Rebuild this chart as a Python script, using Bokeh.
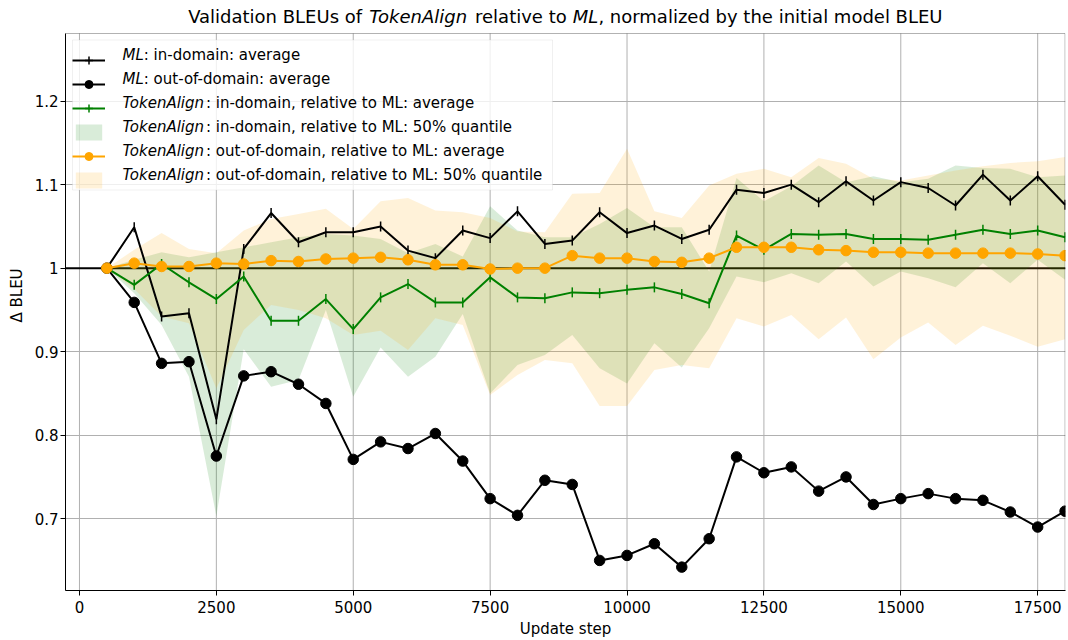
import math
from bokeh.plotting import figure
from bokeh.models import (Range1d, FixedTicker, Span, Legend, LegendItem, Label,
                          BoxAnnotation)
from bokeh.embed import file_html
from bokeh.resources import INLINE

# ---------------- data ----------------
steps = [500, 1000, 1500, 2000, 2500, 3000, 3500, 4000, 4500, 5000, 5500, 6000,
         6500, 7000, 7500, 8000, 8500, 9000, 9500, 10000, 10500, 11000, 11500, 12000,
         12500, 13000, 13500, 14000, 14500, 15000, 15500, 16000, 16500, 17000, 17500, 18000]

ml_in_avg = [1.000, 1.049, 0.942, 0.946, 0.819, 1.023, 1.066, 1.031, 1.043, 1.043, 1.050, 1.021,
             1.012, 1.045, 1.036, 1.068, 1.029, 1.033, 1.067, 1.042, 1.051, 1.035, 1.046, 1.094,
             1.090, 1.100, 1.079, 1.104, 1.081, 1.103, 1.096, 1.075, 1.112, 1.081, 1.110, 1.076]

ml_out_avg = [1.000, 0.959, 0.886, 0.888, 0.775, 0.871, 0.876, 0.861, 0.838, 0.771, 0.792, 0.784,
              0.802, 0.769, 0.724, 0.704, 0.746, 0.741, 0.650, 0.656, 0.670, 0.642, 0.676, 0.774,
              0.755, 0.762, 0.733, 0.750, 0.717, 0.724, 0.730, 0.724, 0.722, 0.708, 0.690, 0.709]

ta_in_avg = [1.000, 0.980, 1.005, 0.983, 0.963, 0.990, 0.937, 0.937, 0.963, 0.927, 0.965, 0.981,
             0.959, 0.959, 0.989, 0.965, 0.964, 0.971, 0.970, 0.974, 0.977, 0.969, 0.958, 1.039,
             1.022, 1.041, 1.040, 1.041, 1.035, 1.035, 1.034, 1.040, 1.046, 1.041, 1.045, 1.037]

ta_in_q_lo = [1.000, 0.970, 0.932, 0.870, 0.703, 0.903, 0.858, 0.866, 0.950, 0.846, 0.905, 0.870,
              0.894, 0.945, 0.850, 0.884, 0.896, 0.920, 0.880, 0.862, 0.910, 0.881, 0.928, 0.990,
              0.983, 0.994, 0.982, 1.008, 0.978, 0.996, 0.988, 0.977, 1.006, 0.982, 1.010, 0.986]

ta_in_q_hi = [1.000, 1.010, 1.019, 1.013, 1.019, 1.025, 1.031, 1.037, 1.041, 1.039, 1.035, 1.018,
              1.029, 1.014, 1.074, 1.045, 1.037, 1.037, 1.053, 1.072, 1.049, 1.049, 0.996, 1.108,
              1.080, 1.098, 1.123, 1.103, 1.110, 1.103, 1.107, 1.123, 1.120, 1.119, 1.109, 1.111]

ta_out_avg = [1.000, 1.006, 1.002, 1.002, 1.006, 1.005, 1.009, 1.008, 1.011, 1.012, 1.013, 1.010,
              1.004, 1.004, 0.999, 1.000, 1.000, 1.015, 1.012, 1.012, 1.008, 1.007, 1.012, 1.025,
              1.025, 1.025, 1.022, 1.021, 1.019, 1.019, 1.018, 1.018, 1.018, 1.018, 1.017, 1.015]

ta_out_q_lo = [1.000, 0.975, 0.942, 0.934, 0.856, 0.926, 0.956, 0.950, 0.940, 0.920, 0.925, 0.902,
               0.940, 0.932, 0.848, 0.872, 0.890, 0.886, 0.835, 0.835, 0.878, 0.884, 0.880, 0.940,
               0.930, 0.944, 0.915, 0.941, 0.891, 0.917, 0.935, 0.908, 0.931, 0.919, 0.906, 0.915]

ta_out_q_hi = [1.000, 1.022, 1.042, 1.023, 1.018, 1.045, 1.059, 1.065, 1.071, 1.047, 1.080, 1.084,
               1.069, 1.067, 1.060, 1.044, 1.043, 1.089, 1.090, 1.143, 1.068, 1.060, 1.099, 1.113,
               1.119, 1.109, 1.132, 1.125, 1.107, 1.105, 1.111, 1.117, 1.122, 1.126, 1.128, 1.133]

x_ticks = [0, 2500, 5000, 7500, 10000, 12500, 15000, 17500]
y_ticks = [0.7, 0.8, 0.9, 1.0, 1.1, 1.2]

# (italic name, rest of the label)
legend_labels = [
    ("ML", ": in-domain: average"),
    ("ML", ": out-of-domain: average"),
    ("TokenAlign", ": in-domain, relative to ML: average"),
    ("TokenAlign", ": in-domain, relative to ML: 50% quantile"),
    ("TokenAlign", ": out-of-domain, relative to ML: average"),
    ("TokenAlign", ": out-of-domain, relative to ML: 50% quantile"),
]

title_parts = [("Validation BLEUs of ", "normal"), ("TokenAlign", "italic"),
               (" relative to ", "normal"), ("ML", "italic"),
               (", normalized by the initial model BLEU", "normal")]

# ---------------- layout ----------------
FONT = "DejaVu Sans"
W, H = 1068, 640
BL, BR, BT, BB = 65, 3, 0, 50
FW = W - BL - BR          # 1000
FH = H - BT - BB          # 590
AX_TOP_PX = 33            # distance of the axes box top below the figure top

x_lo, x_hi = -255, 18000
x_end = x_hi + 8
y_lo, y_hi = 0.614, 1.281
y_top = y_lo + (y_hi - y_lo) * FH / (FH - AX_TOP_PX)   # room for the title inside frame


def sx_to_x(sx):
    return x_lo + sx / FW * (x_end - x_lo)


def sy_to_y(sy):
    return y_lo + sy / FH * (y_top - y_lo)


# DejaVu Sans advance widths (units per em 2048)
ADV = {' ': 651, ',': 651, '.': 651, '-': 739, ':': 690, '%': 1946,
       '0': 1303, '1': 1303, '2': 1303, '3': 1303, '4': 1303, '5': 1303,
       '6': 1303, '7': 1303, '8': 1303, '9': 1303,
       'A': 1401, 'B': 1405, 'C': 1430, 'D': 1577, 'E': 1294, 'F': 1178, 'G': 1587,
       'H': 1540, 'I': 604, 'J': 604, 'K': 1343, 'L': 1141, 'M': 1767, 'N': 1532,
       'O': 1612, 'P': 1235, 'Q': 1612, 'R': 1423, 'S': 1300, 'T': 1251, 'U': 1499,
       'V': 1401, 'W': 2025, 'X': 1403, 'Y': 1251, 'Z': 1403,
       'a': 1255, 'b': 1300, 'c': 1126, 'd': 1300, 'e': 1260, 'f': 721, 'g': 1300,
       'h': 1298, 'i': 569, 'j': 569, 'k': 1186, 'l': 569, 'm': 1995, 'n': 1298,
       'o': 1253, 'p': 1300, 'q': 1300, 'r': 842, 's': 1067, 't': 803, 'u': 1298,
       'v': 1212, 'w': 1675, 'x': 1212, 'y': 1212, 'z': 1075}


def tw(s, size):
    return sum(ADV.get(c, 1300) for c in s) / 2048.0 * size


p = figure(width=W, height=H, output_backend="svg", toolbar_location=None,
           x_range=Range1d(x_lo, x_end), y_range=Range1d(y_lo, y_top),
           min_border_left=BL, min_border_right=BR, min_border_top=BT, min_border_bottom=BB)
p.background_fill_color = "white"
p.border_fill_color = "white"
p.outline_line_color = None

for ax in (p.xaxis[0], p.yaxis[0]):
    ax.major_label_text_font = FONT
    ax.major_label_text_font_size = "15px"
    ax.major_label_text_color = "black"
    ax.axis_label_text_font = FONT
    ax.axis_label_text_font_size = "15px"
    ax.axis_label_text_font_style = "normal"
    ax.axis_label_text_color = "black"
    ax.major_tick_out = 5
    ax.major_tick_in = 0
    ax.minor_tick_out = 0
    ax.minor_tick_in = 0
    ax.axis_line_color = "black"
    ax.major_tick_line_color = "black"

p.xaxis.ticker = FixedTicker(ticks=x_ticks)
p.yaxis.ticker = FixedTicker(ticks=y_ticks)
p.yaxis.bounds = (y_lo, y_hi)
p.xaxis.axis_label = "Update step"
p.yaxis.axis_label = "Δ BLEU"
p.xaxis.major_label_standoff = 5
p.xaxis.axis_label_standoff = 4
p.yaxis.major_label_standoff = 2
p.yaxis.axis_label_standoff = 6

p.ygrid.grid_line_color = "#b0b0b0"
p.ygrid.grid_line_width = 1
p.xgrid.visible = False
# vertical grid lines limited to the axes box
p.segment(x0=x_ticks, y0=[y_lo] * len(x_ticks), x1=x_ticks, y1=[y_hi] * len(x_ticks),
          line_color="#b0b0b0", line_width=1, level="underlay")

# axes box (top/right spines)
p.add_layout(BoxAnnotation(left=x_lo, right=x_hi, bottom=y_lo, top=y_hi,
                           fill_alpha=0, line_color="black", line_width=1))

p.add_layout(Span(location=1.0, dimension="width", line_color="black",
                  line_width=2, level="underlay"))

# bands
b_in = p.varea(x=steps, y1=ta_in_q_lo, y2=ta_in_q_hi, fill_color="green", fill_alpha=0.15)
b_out = p.varea(x=steps, y1=ta_out_q_lo, y2=ta_out_q_hi, fill_color="orange", fill_alpha=0.15)

# lines
l1 = p.line(steps, ml_in_avg, line_color="black", line_width=2)
p.scatter(steps, ml_in_avg, marker="dash", angle=math.pi / 2, size=10,
          line_color="black", line_width=1.5)
k1 = p.scatter(steps, ml_in_avg, marker="cross", size=0, line_color="black", line_width=1.5)
l2 = p.line(steps, ml_out_avg, line_color="black", line_width=2)
s2 = p.scatter(steps, ml_out_avg, marker="circle", size=10.5,
               line_color="black", fill_color="black")
l3 = p.line(steps, ta_in_avg, line_color="green", line_width=2)
p.scatter(steps, ta_in_avg, marker="dash", angle=math.pi / 2, size=10,
          line_color="green", line_width=1.5)
k3 = p.scatter(steps, ta_in_avg, marker="cross", size=0, line_color="green", line_width=1.5)
l4 = p.line(steps, ta_out_avg, line_color="orange", line_width=2)
s4 = p.scatter(steps, ta_out_avg, marker="circle", size=10.5,
               line_color="orange", fill_color="orange")

LS = 15
PAD, GW, GH, STAND, SPACING = 5, 33, 20, 12, 4
max_label_w = max(tw(a + b, LS) for a, b in legend_labels)
LABEL_W = int(max_label_w) + 5
LEG_X = 7                          # from frame left
LEG_TOP = AX_TOP_PX + 6.5          # from frame top
n_items = len(legend_labels)
leg_h = 2 * PAD + n_items * GH + (n_items - 1) * SPACING
leg_w = 2 * PAD + GW + STAND + LABEL_W

# legend box (semi-transparent white, light grey border), above grid, below texts
p.add_layout(BoxAnnotation(left=sx_to_x(LEG_X), right=sx_to_x(LEG_X + leg_w),
                           top=sy_to_y(FH - LEG_TOP), bottom=sy_to_y(FH - LEG_TOP - leg_h),
                           fill_color="white", fill_alpha=0.8,
                           line_color="#cccccc", line_width=1, level="glyph"))

legend = Legend(items=[
    LegendItem(label=" ", renderers=[l1, k1]),
    LegendItem(label=" ", renderers=[l2, s2]),
    LegendItem(label=" ", renderers=[l3, k3]),
    LegendItem(label=" ", renderers=[b_in]),
    LegendItem(label=" ", renderers=[l4, s4]),
    LegendItem(label=" ", renderers=[b_out]),
], location=(LEG_X, FH - LEG_TOP - leg_h), margin=0, padding=PAD, spacing=SPACING,
    glyph_width=GW, glyph_height=GH, label_height=GH, label_standoff=STAND,
    label_width=LABEL_W,
    label_text_font=FONT, label_text_font_size=f"{LS}px", label_text_color="black",
    border_line_color=None, background_fill_alpha=0)
p.add_layout(legend)

# legend texts with italic names
tx = LEG_X + PAD + GW + STAND
for i, (name, rest) in enumerate(legend_labels):
    ty = FH - (LEG_TOP + PAD + GH / 2 + i * (GH + SPACING))
    p.add_layout(Label(x=tx, y=ty, x_units="screen", y_units="screen", text=name,
                       text_font=FONT, text_font_size=f"{LS}px", text_font_style="italic",
                       text_color="black", text_baseline="middle", text_align="left"))
    p.add_layout(Label(x=tx + tw(name, LS), y=ty, x_units="screen", y_units="screen",
                       text=rest, text_font=FONT, text_font_size=f"{LS}px",
                       text_font_style="normal", text_color="black",
                       text_baseline="middle", text_align="left"))

# title made of pieces (italic names)
TS = 18
total = sum(tw(t, TS) for t, _ in title_parts)
cx = FW / 2.0 - total / 2.0
for txt, style in title_parts:
    lead = len(txt) - len(txt.lstrip(" "))
    p.add_layout(Label(x=cx + tw(" " * lead, TS), y=FH - 16, x_units="screen", y_units="screen",
                       text=txt.strip(" "), text_font=FONT, text_font_size=f"{TS}px",
                       text_font_style=style, text_color="black",
                       text_baseline="middle", text_align="left"))
    cx += tw(txt, TS)

open("out.html", "w").write(file_html(p, INLINE))
